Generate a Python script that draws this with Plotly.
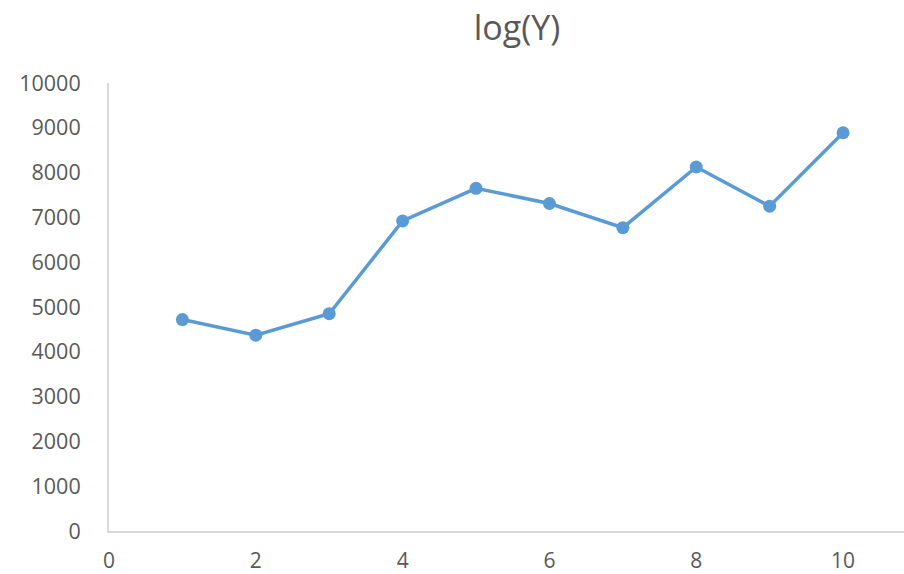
import plotly.graph_objects as go

# Series data
x_values = [1, 2, 3, 4, 5, 6, 7, 8, 9, 10]
y_values = [4720, 4370, 4850, 6920, 7650, 7310, 6770, 8125, 7250, 8890]

chart_title = "log(Y)"
x_tickvals = [0, 2, 4, 6, 8, 10]
y_tickvals = [0, 1000, 2000, 3000, 4000, 5000, 6000, 7000, 8000, 9000, 10000]

line_color = "#5B9BD5"
axis_color = "#D9D9D9"
text_color = "#595959"
font_family = "Open Sans, Liberation Sans, sans-serif"

fig = go.Figure()
fig.add_trace(go.Scatter(
    x=x_values,
    y=y_values,
    mode="lines+markers",
    line=dict(color=line_color, width=3.5),
    marker=dict(color=line_color, size=13),
    showlegend=False,
    hoverinfo="x+y",
))

fig.update_layout(
    width=904,
    height=574,
    margin=dict(l=109, r=0, t=83, b=43),
    paper_bgcolor="white",
    plot_bgcolor="white",
    font=dict(family=font_family, color=text_color),
    title=dict(
        text=chart_title,
        x=517 / 904,
        xanchor="center",
        y=1 - 28 / 574,
        yanchor="middle",
        font=dict(size=34, color=text_color, family=font_family),
    ),
)

fig.update_xaxes(
    range=[0, 10.83],
    tickvals=x_tickvals,
    ticktext=[str(v) for v in x_tickvals],
    showgrid=False,
    zeroline=False,
    showline=True,
    linecolor=axis_color,
    linewidth=2,
    ticks="",
    ticklabelstandoff=10,
    automargin=False,
    tickfont=dict(size=21, color=text_color, family=font_family),
)

fig.update_yaxes(
    range=[0, 10000],
    tickvals=y_tickvals,
    ticktext=[str(v) for v in y_tickvals],
    showgrid=False,
    zeroline=False,
    showline=True,
    linecolor=axis_color,
    linewidth=2,
    ticks="",
    ticklabelstandoff=22,
    automargin=False,
    tickfont=dict(size=21.5, color=text_color, family=font_family),
)

fig.write_html("out.html")
